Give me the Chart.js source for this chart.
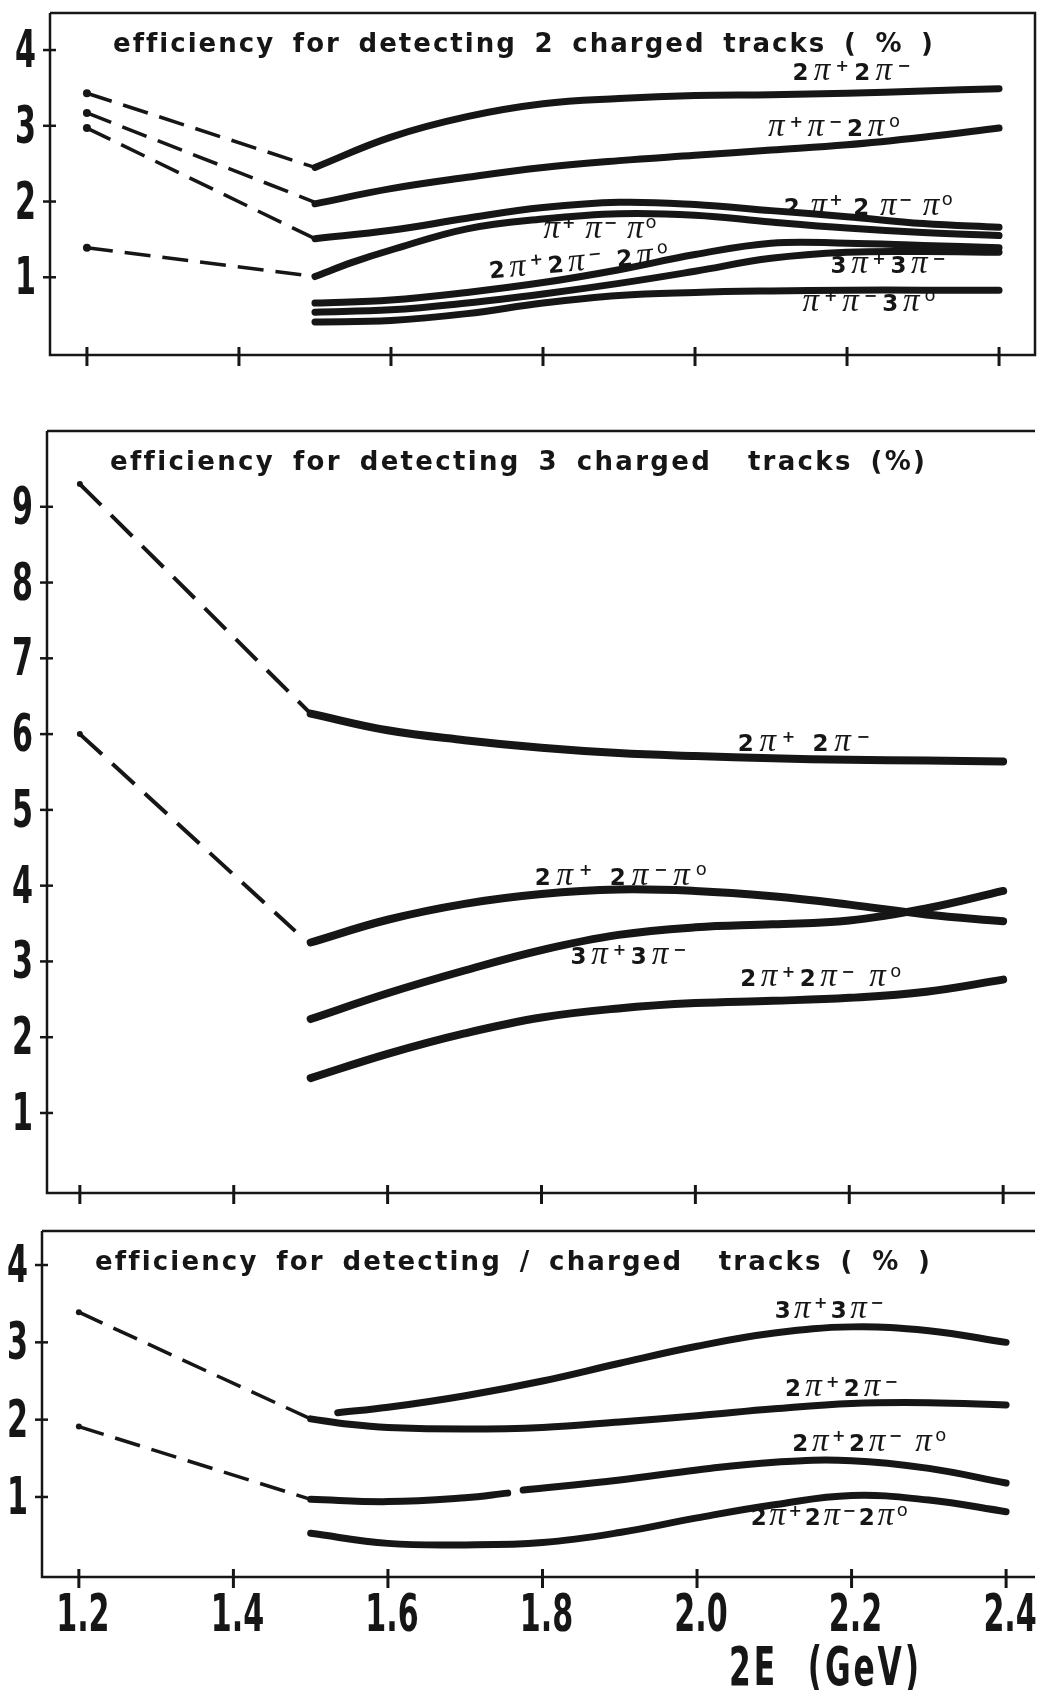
<!DOCTYPE html>
<html>
<head>
<meta charset="utf-8">
<script src="https://cdn.jsdelivr.net/npm/chart.js@4.4.1/dist/chart.umd.min.js"></script>
<style>
  body { margin: 0; background: #fff; width: 1039px; height: 1690px; overflow: hidden; position: relative; }
  canvas { position: absolute; left: 0; }
</style>
</head>
<body>
<canvas id="twoTracks" width="1039" height="395" style="top:0"></canvas>
<canvas id="threeTracks" width="1039" height="810" style="top:395px"></canvas>
<canvas id="oneTrack" width="1039" height="485" style="top:1205px"></canvas>
<script>
// efficiency (%) vs 2E (GeV)

const energyTicks = [1.2, 1.4, 1.6, 1.8, 2.0, 2.2, 2.4];
const energyLabels = ['1.2', '1.4', '1.6', '1.8', '2.0', '2.2', '2.4'];
const gridE = [1.5, 1.6, 1.7, 1.8, 1.9, 2.0, 2.1, 2.2, 2.3, 2.4];
const dashE = [1.2, 1.5];

// panel 1: 2 charged tracks
const twoTicks = [1, 2, 3, 4];
const twoDash4pi = [3.43, 2.45];
const twoDash2pi2pi0 = [3.17, 1.99];
const twoDash4pipi0 = [2.97, 1.51];
const twoDash2pipi0 = [1.39, 1.01];
const two4pi = [2.45, 2.85, 3.12, 3.29, 3.36, 3.40, 3.41, 3.43, 3.46, 3.49];
const two2pi2pi0 = [1.97, 2.17, 2.32, 2.45, 2.54, 2.61, 2.68, 2.75, 2.85, 2.97];
const two4pipi0 = [1.51, 1.62, 1.78, 1.92, 1.99, 1.96, 1.88, 1.80, 1.71, 1.66];
const two2pipi0E = [1.5, 1.55, 1.6, 1.7, 1.8, 1.9, 2.0, 2.1, 2.2, 2.3, 2.4];
const two2pipi0 = [1.01, 1.20, 1.36, 1.64, 1.77, 1.84, 1.82, 1.73, 1.65, 1.59, 1.55];
const two4pi2pi0 = [0.66, 0.70, 0.80, 0.93, 1.10, 1.30, 1.45, 1.45, 1.42, 1.39];
const two6pi = [0.54, 0.57, 0.66, 0.78, 0.92, 1.08, 1.25, 1.33, 1.34, 1.33];
const two2pi3pi0 = [0.41, 0.43, 0.52, 0.66, 0.76, 0.80, 0.82, 0.83, 0.83, 0.83];

// panel 2: 3 charged tracks
const threeTicks = [1, 2, 3, 4, 5, 6, 7, 8, 9];
const threeDash4pi = [9.30, 6.27];
const threeDash4pipi0E = [1.2, 1.48];
const threeDash4pipi0 = [6.00, 3.40];
const three4pi = [6.27, 6.05, 5.92, 5.82, 5.75, 5.71, 5.68, 5.66, 5.65, 5.64];
const three4pipi0Upper = [3.25, 3.55, 3.76, 3.89, 3.95, 3.93, 3.86, 3.75, 3.62, 3.53];
const three6pi = [2.24, 2.58, 2.88, 3.15, 3.35, 3.45, 3.49, 3.54, 3.70, 3.93];
const three4pipi0Lower = [1.46, 1.78, 2.05, 2.26, 2.38, 2.45, 2.48, 2.52, 2.60, 2.76];

// panel 3: one charged track
const oneTicks = [1, 2, 3, 4];
const oneDash4pi = [3.39, 2.01];
const oneDash4pipi0 = [1.91, 0.97];
const one4piE = [1.5, 1.55, 1.6, 1.7, 1.8, 1.9, 2.0, 2.1, 2.2, 2.3, 2.4];
const one4pi = [2.01, 1.94, 1.90, 1.88, 1.90, 1.97, 2.05, 2.14, 2.21, 2.22, 2.19];
const one6piE = [1.535, 1.6, 1.7, 1.8, 1.9, 2.0, 2.1, 2.2, 2.3, 2.4];
const one6pi = [2.09, 2.16, 2.31, 2.50, 2.73, 2.95, 3.12, 3.20, 3.15, 3.00];
const one4pipi0E = [1.5, 1.6, 1.7, 1.755, 1.765, 1.775, 1.9, 2.0, 2.1, 2.2, 2.3, 2.4];
const one4pipi0 = [0.97, 0.94, 0.99, 1.05, null, 1.09, 1.22, 1.35, 1.45, 1.47, 1.37, 1.18];
const one4pi2pi0 = [0.53, 0.40, 0.38, 0.41, 0.54, 0.73, 0.90, 1.02, 0.96, 0.81];

const INK = '#161616';
const SX = 0.58; // horizontal squeeze for the big axis numerals

function series(xs, ys) {
  return xs.map((x, i) => ({ x, y: ys[i] }));
}

function solid(xs, ys, width) {
  return {
    data: series(xs, ys), borderColor: INK, borderWidth: width, borderCapStyle: 'round',
    pointRadius: 0, tension: 0.4, fill: false
  };
}

function dashed(xs, ys, width, dash, dot) {
  return {
    data: series(xs, ys), borderColor: INK, borderWidth: width, borderDash: dash,
    pointRadius: [dot, 0], pointBackgroundColor: INK, pointBorderWidth: 0, tension: 0, fill: false
  };
}

function drawSpaced(ctx, text, x0, x1, baseline, size, sx, spaceEm) {
  ctx.font = `bold ${size}px "DejaVu Sans"`;
  ctx.textAlign = 'left';
  ctx.textBaseline = 'alphabetic';
  const chars = [...text];
  const ws = chars.map(c => (c === ' ' ? size * spaceEm : ctx.measureText(c).width * sx));
  const natural = ws.reduce((a, b) => a + b, 0);
  const gap = (x1 - x0 - natural) / (chars.length - 1);
  let xx = x0;
  chars.forEach((c, i) => {
    ctx.save();
    ctx.translate(xx, baseline);
    ctx.scale(sx, 1);
    ctx.fillText(c, 0, 0);
    ctx.restore();
    xx += ws[i] + gap;
  });
}

function drawCondensed(ctx, text, x, baseline, size, align) {
  ctx.save();
  ctx.font = `bold ${size}px "DejaVu Sans"`;
  ctx.textAlign = 'left';
  ctx.textBaseline = 'alphabetic';
  const w = ctx.measureText(text).width * SX;
  const left = align === 'right' ? x - w : x - w / 2;
  ctx.translate(left, baseline);
  ctx.scale(SX, 1);
  ctx.fillText(text, 0, 0);
  ctx.restore();
}

// formula like 2π^+2π^− : '^' raises the next character
function drawFormula(ctx, text, cx, cy, size, width, angle) {
  const toks = [];
  for (let i = 0; i < text.length; i++) {
    let ch = text[i];
    let sup = false;
    if (ch === '^') { sup = true; ch = text[++i]; }
    toks.push({ ch, sup });
  }
  const fontFor = t => {
    const s = t.sup ? Math.round(size * 0.68) : size;
    if (t.ch === 'π') return `italic ${Math.round(s * 1.45)}px "Liberation Serif"`;
    if (t.ch === 'o') return `${Math.round(s * 1.1)}px "DejaVu Sans"`;
    return `bold ${s}px "DejaVu Sans"`;
  };
  let natural = 0;
  toks.forEach(t => {
    ctx.font = fontFor(t);
    t.w = t.ch === ' ' ? size * 0.25 : ctx.measureText(t.ch).width;
    natural += t.w;
  });
  const gap = toks.length > 1 ? Math.max(-1, (width - natural) / (toks.length - 1)) : 0;
  ctx.save();
  ctx.translate(cx, cy);
  ctx.rotate(angle || 0);
  ctx.textAlign = 'left';
  ctx.textBaseline = 'alphabetic';
  const base = size * 0.36;
  let xx = -(natural + gap * (toks.length - 1)) / 2;
  toks.forEach(t => {
    ctx.font = fontFor(t);
    ctx.fillText(t.ch, xx, t.sup ? base - size * 0.42 : base);
    xx += t.w + gap;
  });
  ctx.restore();
}

function paperPlugin(panel) {
  return {
    id: 'paper',
    afterDatasetsDraw(chart) {
      const { ctx, chartArea: a, scales: { x, y } } = chart;
      ctx.save();
      ctx.strokeStyle = INK;
      ctx.fillStyle = INK;
      ctx.lineCap = 'butt';

      // frame
      ctx.lineWidth = 2.5;
      ctx.beginPath();
      ctx.moveTo(a.left, a.top);
      ctx.lineTo(a.left, a.bottom);
      ctx.lineTo(a.right, a.bottom);
      if (panel.rightBorder) ctx.lineTo(a.right, a.top); else ctx.moveTo(a.right, a.top);
      ctx.lineTo(a.left, a.top);
      ctx.stroke();

      // y ticks crossing the axis
      ctx.lineWidth = 2.5;
      panel.yTicks.forEach(v => {
        const py = y.getPixelForValue(v);
        ctx.beginPath();
        ctx.moveTo(a.left - 7, py);
        ctx.lineTo(a.left + 6, py);
        ctx.stroke();
        drawCondensed(ctx, String(v), a.left - 14, py + 17, 52, 'right');
      });

      // x ticks crossing the axis
      ctx.lineWidth = 3;
      energyTicks.forEach((v, i) => {
        const px = x.getPixelForValue(v);
        ctx.beginPath();
        ctx.moveTo(px, a.bottom - 8);
        ctx.lineTo(px, a.bottom + 11);
        ctx.stroke();
        if (panel.xLabels) drawCondensed(ctx, energyLabels[i], px + 4, a.bottom + 54, 52, 'center');
      });

      if (panel.xTitle) {
        drawSpaced(ctx, panel.xTitle, 729, 919, a.bottom + 108, 54, SX, 0.5);
      }

      // panel heading
      const t = panel.title;
      drawSpaced(ctx, t.text, t.x0, t.x1, t.base, 26, 1, 0.6);

      // curve names
      panel.notes.forEach(n => {
        drawFormula(ctx, n.text, x.getPixelForValue(n.x), y.getPixelForValue(n.y), 23, n.w, n.angle);
      });
      ctx.restore();
    }
  };
}

function makeChart(id, panel, datasets) {
  return new Chart(document.getElementById(id), {
    type: 'line',
    data: { datasets },
    options: {
      responsive: false,
      animation: false,
      devicePixelRatio: 1,
      layout: { padding: panel.pad },
      plugins: { legend: { display: false }, tooltip: { enabled: false } },
      scales: {
        x: { type: 'linear', min: panel.xRange[0], max: panel.xRange[1], display: false },
        y: { type: 'linear', min: panel.yRange[0], max: panel.yRange[1], display: false }
      }
    },
    plugins: [paperPlugin(panel)]
  });
}

makeChart('twoTracks', {
  pad: { left: 50, top: 13, right: 2, bottom: 40 },
  xRange: [1.1514, 2.4473], yRange: [-0.026, 4.489],
  rightBorder: true, yTicks: twoTicks,
  title: { text: 'efficiency for detecting 2 charged tracks ( % )', x0: 113, x1: 933, base: 52 },
  notes: [
    { text: '2π^+2π^−', x: 2.206, y: 3.71, w: 118 },
    { text: 'π^+π^−2π^o', x: 2.183, y: 2.97, w: 132 },
    { text: '2 π^+ 2 π^− π^o', x: 2.228, y: 1.93, w: 169 },
    { text: 'π^+ π^− π^o', x: 1.875, y: 1.63, w: 113 },
    { text: '2π^+2π^− 2π^o', x: 1.847, y: 1.20, w: 180, angle: -0.09 },
    { text: '3π^+3π^−', x: 2.254, y: 1.16, w: 115 },
    { text: 'π^+π^−3π^o', x: 2.229, y: 0.67, w: 133 }
  ]
}, [
  dashed(dashE, twoDash4pi, 3.5, [26, 12], 4),
  dashed(dashE, twoDash2pi2pi0, 3.5, [26, 12], 4),
  dashed(dashE, twoDash4pipi0, 3.5, [26, 12], 4),
  dashed(dashE, twoDash2pipi0, 3.5, [26, 12], 4),
  solid(gridE, two4pi, 7),
  solid(gridE, two2pi2pi0, 7),
  solid(gridE, two4pipi0, 7),
  solid(two2pipi0E, two2pipi0, 7),
  solid(gridE, two4pi2pi0, 7),
  solid(gridE, two6pi, 7),
  solid(gridE, two2pi3pi0, 7)
]);

makeChart('threeTracks', {
  pad: { left: 47, top: 36, right: 0, bottom: 12 },
  xRange: [1.1573, 2.4414], yRange: [-0.056, 10.0],
  rightBorder: false, yTicks: threeTicks,
  title: { text: 'efficiency for detecting 3 charged  tracks (%)', x0: 110, x1: 925, base: 75 },
  notes: [
    { text: '2π^+ 2π^−', x: 2.141, y: 5.88, w: 132 },
    { text: '2π^+ 2π^−π^o', x: 1.903, y: 4.12, w: 172 },
    { text: '3π^+3π^−', x: 1.913, y: 3.07, w: 116 },
    { text: '2π^+2π^− π^o', x: 2.163, y: 2.78, w: 161 }
  ]
}, [
  dashed(dashE, threeDash4pi, 4, [30, 14], 3),
  dashed(threeDash4pipi0E, threeDash4pipi0, 4, [30, 14], 3),
  solid(gridE, three4pi, 8),
  solid(gridE, three4pipi0Upper, 8),
  solid(gridE, three6pi, 8),
  solid(gridE, three4pipi0Lower, 8)
]);

makeChart('oneTrack', {
  pad: { left: 42, top: 26, right: 0, bottom: 113 },
  xRange: [1.1523, 2.4374], yRange: [-0.035, 4.44],
  rightBorder: false, yTicks: oneTicks, xLabels: true, xTitle: '2E (GeV)',
  title: { text: 'efficiency for detecting / charged  tracks ( % )', x0: 95, x1: 930, base: 65 },
  notes: [
    { text: '3π^+3π^−', x: 2.171, y: 3.42, w: 109 },
    { text: '2π^+2π^−', x: 2.187, y: 2.41, w: 113 },
    { text: '2π^+2π^− π^o', x: 2.223, y: 1.70, w: 154 },
    { text: '2π^+2π^−2π^o', x: 2.171, y: 0.74, w: 157 }
  ]
}, [
  dashed(dashE, oneDash4pi, 3.5, [26, 12], 3),
  dashed(dashE, oneDash4pipi0, 3.5, [26, 12], 3),
  solid(one4piE, one4pi, 7),
  solid(one6piE, one6pi, 7),
  solid(one4pipi0E, one4pipi0, 7),
  solid(gridE, one4pi2pi0, 7)
]);
</script>
</body>
</html>
